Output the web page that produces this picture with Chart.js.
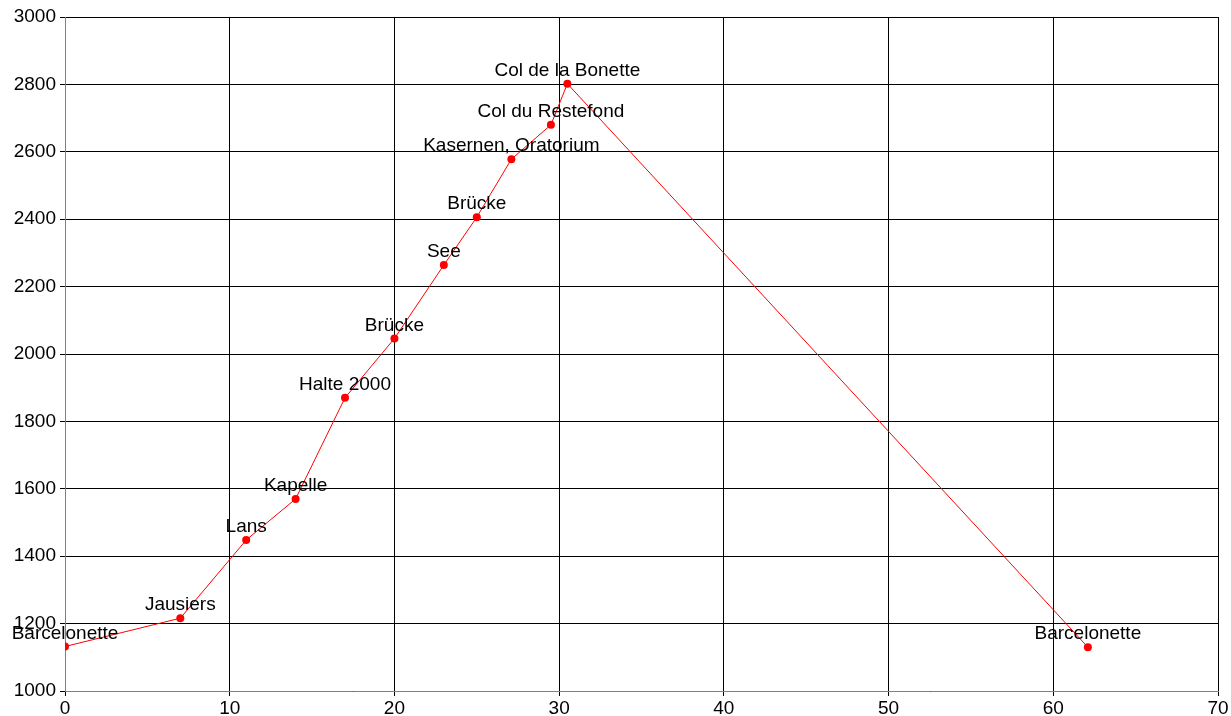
<!DOCTYPE html>
<html>
<head>
<meta charset="utf-8">
<script src="https://cdn.jsdelivr.net/npm/chart.js@4"></script>
<style>
  html, body { margin: 0; padding: 0; background: #fff; }
  #wrap { width: 1231px; height: 716px; }
</style>
</head>
<body>
<div id="wrap"><canvas id="profileChart"></canvas></div>
<script>
// km along the route, altitude in m, name of the spot
const distances = [0, 7, 11, 14, 17, 20, 23, 25, 27.1, 29.5, 30.5, 62.1];
const altitudes = [1132, 1216, 1448, 1570, 1870, 2046, 2264, 2406, 2578, 2680, 2802, 1130];
const places = ['Barcelonette', 'Jausiers', 'Lans', 'Kapelle', 'Halte 2000', 'Brücke', 'See',
  'Brücke', 'Kasernen, Oratorium', 'Col du Restefond', 'Col de la Bonette', 'Barcelonette'];

const font = { family: 'Arial, "Liberation Sans", sans-serif', size: 19 };

// writes each place name centred above its point
const pointLabels = {
  id: 'pointLabels',
  afterDatasetsDraw(chart) {
    const c = chart.ctx;
    const meta = chart.getDatasetMeta(0);
    c.save();
    c.font = font.size + 'px ' + font.family;
    c.fillStyle = '#000';
    c.textAlign = 'center';
    c.textBaseline = 'middle';
    meta.data.forEach((pt, i) => {
      c.fillText(places[i], pt.x, pt.y - 13);
    });
    c.restore();
  }
};

const ctx = document.getElementById('profileChart').getContext('2d');
new Chart(ctx, {
  type: 'scatter',
  data: {
    datasets: [{
      data: distances.map((d, i) => ({ x: d, y: altitudes[i] })),
      showLine: true,
      borderColor: '#ff0000',
      borderWidth: 1,
      backgroundColor: '#ff0000',
      pointRadius: 4,
      pointBorderWidth: 0,
      pointHoverRadius: 4,
      tension: 0
    }]
  },
  options: {
    responsive: true,
    maintainAspectRatio: false,
    animation: false,
    layout: { padding: { top: 17, right: 13, left: 0, bottom: 0 } },
    plugins: { legend: { display: false }, tooltip: { enabled: false } },
    scales: {
      x: {
        type: 'linear',
        min: 0,
        max: 70,
        ticks: { stepSize: 10, color: '#000', font: font, padding: 1, maxRotation: 0,
          callback: v => String(v) },
        grid: { color: '#000', lineWidth: 1, tickLength: 5 },
        border: { color: '#808080', width: 1 },
        afterFit(scale) { scale.height = 25; }
      },
      y: {
        min: 1000,
        max: 3000,
        ticks: { stepSize: 200, color: '#000', font: font, padding: 4,
          callback: v => String(v) },
        grid: { color: '#000', lineWidth: 1, tickLength: 5 },
        border: { color: '#808080', width: 1 },
        afterFit(scale) { scale.width = 65; }
      }
    }
  },
  plugins: [pointLabels]
});
</script>
</body>
</html>
